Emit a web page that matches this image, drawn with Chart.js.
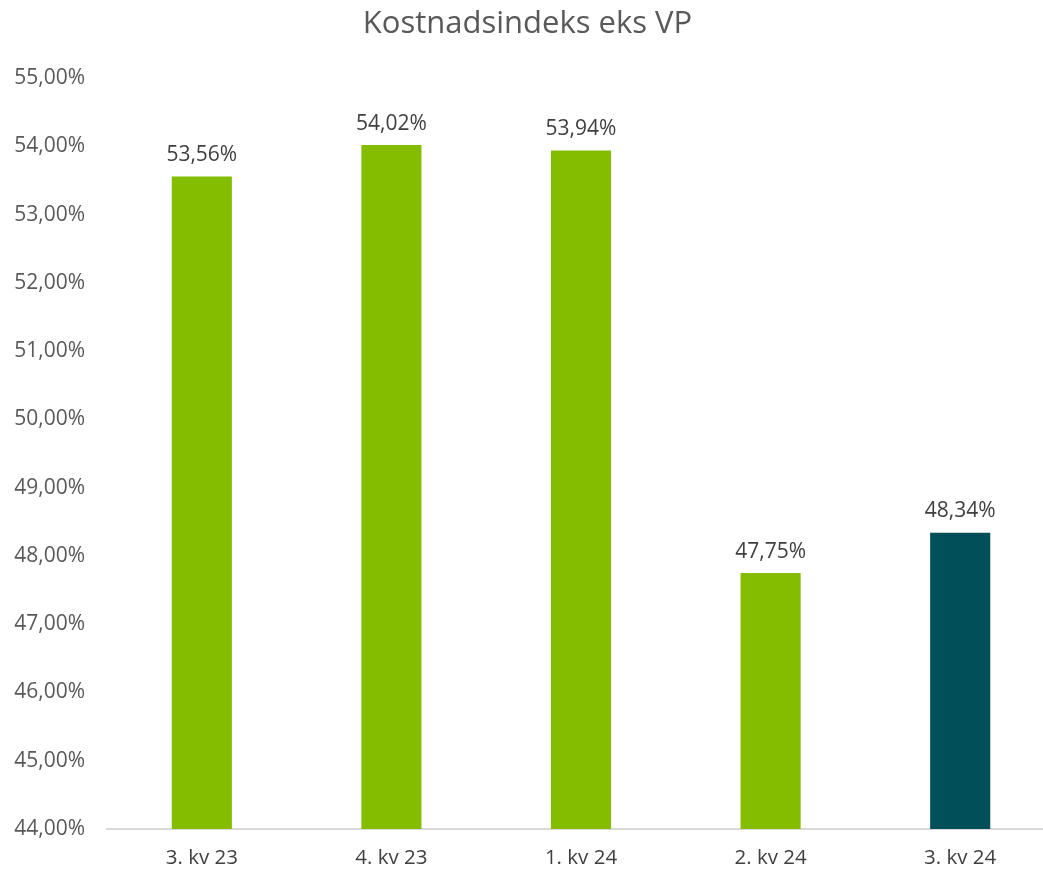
<!DOCTYPE html>
<html>
<head>
<meta charset="utf-8">
<script src="https://cdn.jsdelivr.net/npm/chart.js@4/dist/chart.umd.min.js"></script>
<style>
  html, body { margin: 0; padding: 0; background: #fff; overflow: hidden; }
  #wrap { width: 1055px; height: 872px; }
</style>
</head>
<body>
<div id="wrap"><canvas id="myChart"></canvas></div>
<script>
const quarters = ["3. kv 23", "4. kv 23", "1. kv 24", "2. kv 24", "3. kv 24"];
const costIndex = [53.56, 54.02, 53.94, 47.75, 48.34];
const barColors = ["#84bd00", "#84bd00", "#84bd00", "#84bd00", "#004f59"];

const fmt = v => v.toFixed(2).replace(".", ",") + "%";

// draws the value above each bar
const valueLabels = {
  id: "valueLabels",
  afterDatasetsDraw(chart) {
    const ctx = chart.ctx;
    const meta = chart.getDatasetMeta(0);
    ctx.save();
    ctx.font = "21px 'Open Sans'";
    ctx.fillStyle = "#404040";
    ctx.textAlign = "center";
    ctx.textBaseline = "bottom";
    meta.data.forEach((bar, i) => {
      ctx.fillText(fmt(costIndex[i]), bar.x, bar.y - 11);
    });
    ctx.restore();
  }
};

new Chart("myChart", {
  type: "bar",
  data: {
    labels: quarters,
    datasets: [{
      data: costIndex,
      backgroundColor: barColors,
      barPercentage: 0.317,
      categoryPercentage: 1
    }]
  },
  options: {
    responsive: true,
    maintainAspectRatio: false,
    animation: false,
    layout: { padding: { left: 0, right: 0, top: 0, bottom: 0 } },
    plugins: {
      legend: { display: false },
      tooltip: { enabled: false },
      title: {
        display: true,
        text: "Kostnadsindeks eks VP",
        color: "#595959",
        font: { family: "'Open Sans'", size: 31, weight: "normal" },
        padding: { top: 6, bottom: 35 }
      }
    },
    scales: {
      x: {
        grid: { display: false, drawTicks: false },
        border: { display: true, color: "#d9d9d9", width: 2 },
        ticks: {
          color: "#404040",
          font: { family: "'Open Sans'", size: 20.5 },
          padding: 17
        },
        afterFit(scale) { scale.height = 43; }
      },
      y: {
        min: 44,
        max: 55,
        grid: { display: false, drawTicks: false },
        border: { display: false },
        ticks: {
          stepSize: 1,
          color: "#595959",
          font: { family: "'Open Sans'", size: 21 },
          padding: 22,
          callback: v => fmt(v)
        },
        afterFit(scale) { scale.width = 107; }
      }
    }
  },
  plugins: [valueLabels]
});
</script>
</body>
</html>
